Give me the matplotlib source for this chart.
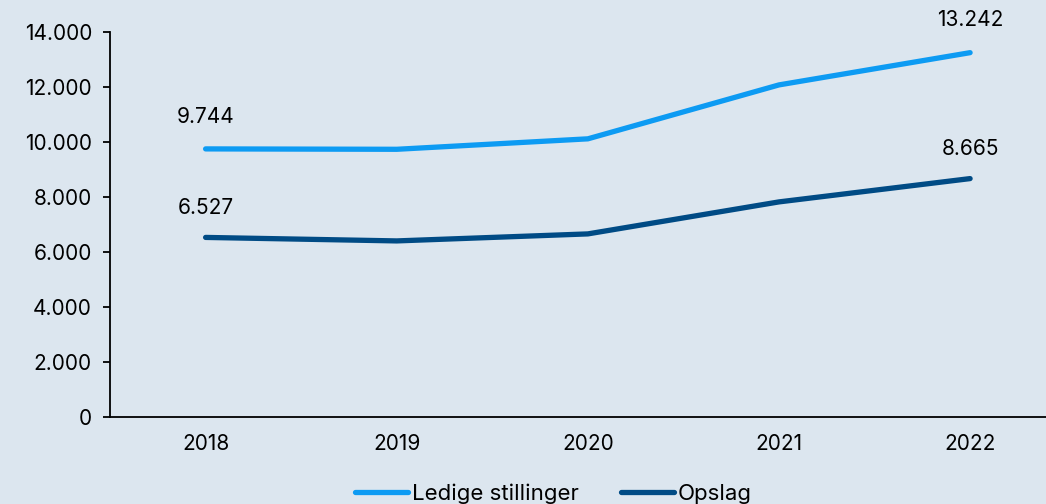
import matplotlib.pyplot as plt
from matplotlib.ticker import FuncFormatter

years = ["2018", "2019", "2020", "2021", "2022"]
ledige = [9744, 9730, 10110, 12070, 13242]
opslag = [6527, 6400, 6655, 7818, 8665]

BG = "#dce6ef"
LIGHT = "#0d9bf3"
DARK = "#004b85"

plt.rcParams["font.family"] = ["Inter", "DejaVu Sans"]

fig = plt.figure(figsize=(10.46, 5.04), dpi=100, facecolor=BG)
ax = fig.add_axes([0.1052, 0.1726, 0.9136, 0.7643])
ax.set_facecolor(BG)

x = range(len(years))
ax.plot(x, ledige, color=LIGHT, lw=3.8, solid_capstyle="round", label="Ledige stillinger")
ax.plot(x, opslag, color=DARK, lw=3.8, solid_capstyle="round", label="Opslag")

fmt = lambda v: f"{v:,.0f}".replace(",", ".")
for i in (0, len(years) - 1):
    ax.annotate(fmt(ledige[i]), (i, ledige[i]), xytext=(0, 16), textcoords="offset points",
                ha="center", va="bottom", fontsize=15)
    ax.annotate(fmt(opslag[i]), (i, opslag[i]), xytext=(0, 14), textcoords="offset points",
                ha="center", va="bottom", fontsize=15)

ax.set_xlim(-0.5, 4.5)
ax.set_ylim(0, 14000)
ax.set_yticks(range(0, 14001, 2000))
ax.yaxis.set_major_formatter(FuncFormatter(lambda v, p: fmt(v)))
ax.set_xticks(list(x))
ax.set_xticklabels(years)
ax.tick_params(axis="y", labelsize=15, length=5, width=1.3, pad=8)
ax.tick_params(axis="x", labelsize=15, length=0, pad=12)

for s in ("top", "right"):
    ax.spines[s].set_visible(False)
for s in ("left", "bottom"):
    ax.spines[s].set_linewidth(1.3)
    ax.spines[s].set_color("black")

leg = fig.legend(loc="center", bbox_to_anchor=(0.529, 0.02), ncol=2, frameon=False,
                 fontsize=16, handlelength=2.4, handletextpad=0.15, columnspacing=1.9)

fig.savefig("out.png", dpi=100, facecolor=BG)
